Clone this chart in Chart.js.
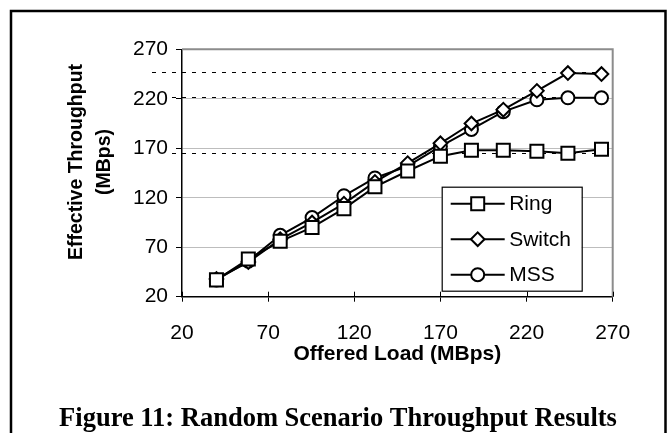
<!DOCTYPE html>
<html><head><meta charset="utf-8">
<script src="https://cdn.jsdelivr.net/npm/chart.js@4.4.0/dist/chart.umd.min.js"></script>
<style>html,body{margin:0;padding:0;background:#fff;}#wrap{width:670px;height:433px;position:relative;}</style>
</head><body><div id="wrap"><canvas id="c" width="670" height="433"></canvas></div>
<script>
// ---- data ----
const offeredLoad = [40, 58.5, 77, 95.5, 114, 132, 151, 170, 188, 206.5, 226, 244, 263.5];
const ringThroughput = [37, 58, 76, 90, 109, 131, 147, 162, 168, 168, 167, 165, 169];
const switchThroughput = [38, 55, 78, 95, 114, 136, 155, 175, 195, 209, 228, 246, 245];
const mssThroughput = [37, 56, 82, 100, 122, 140, 152, 172, 189, 207, 219, 221, 221];
const seriesNames = ['Ring', 'Switch', 'MSS'];
const seriesMarkers = ['rect', 'rectRot', 'circle'];
const refLevels = [247, 222, 165];
const xTicks = [20, 70, 120, 170, 220, 270];
const yTicks = [20, 70, 120, 170, 220, 270];
const xTitle = 'Offered Load (MBps)';
const yTitle = ['Effective Throughput', '(MBps)'];
const caption = 'Figure 11: Random Scenario Throughput Results';

const FONT = "'Liberation Sans', Arial, sans-serif";
const SERIF = "'Liberation Serif', 'Times New Roman', serif";
const seriesValues = [ringThroughput, switchThroughput, mssThroughput];
const markerRadius = {rect: 9.2, rectRot: 6.8, circle: 6.5};

const datasets = seriesNames.map((name, i) => ({
  label: name,
  data: offeredLoad.map((x, j) => ({x: x, y: seriesValues[i][j]})),
  borderColor: '#000',
  borderWidth: 2,
  pointStyle: seriesMarkers[i],
  pointRadius: markerRadius[seriesMarkers[i]],
  pointBorderWidth: 2,
  pointBorderColor: '#000',
  pointBackgroundColor: '#fff',
  tension: 0,
  fill: false
}));

const framePlugin = {
  id: 'frame',
  beforeDraw(chart) {
    const ctx = chart.ctx;
    ctx.save();
    ctx.strokeStyle = '#000';
    ctx.lineWidth = 2.5;
    ctx.beginPath();
    ctx.moveTo(11, 450); ctx.lineTo(11, 11); ctx.lineTo(665.5, 11); ctx.lineTo(665.5, 450);
    ctx.stroke();
    // reference dashed levels
    const ys = chart.scales.y, area = chart.chartArea;
    ctx.strokeStyle = '#000';
    ctx.lineWidth = 1;
    ctx.setLineDash([4, 6]);
    refLevels.forEach(v => {
      const y = Math.round(ys.getPixelForValue(v)) + 0.5;
      ctx.beginPath();
      ctx.moveTo(area.left - 30, y);
      ctx.lineTo(area.right, y);
      ctx.stroke();
    });
    ctx.restore();
  },
  beforeDatasetsDraw(chart) {
    const ctx = chart.ctx, area = chart.chartArea, xs = chart.scales.x;
    ctx.save();
    ctx.strokeStyle = '#8c8c8c';
    ctx.lineWidth = 2;
    ctx.beginPath();
    ctx.moveTo(area.left, area.top); ctx.lineTo(area.right, area.top); ctx.lineTo(area.right, area.bottom);
    ctx.stroke();
    ctx.strokeStyle = '#000';
    ctx.lineWidth = 1;
    xTicks.forEach(v => {
      const x = Math.round(xs.getPixelForValue(v)) + 0.5;
      ctx.beginPath();
      ctx.moveTo(x, area.bottom - 5); ctx.lineTo(x, area.bottom);
      ctx.stroke();
    });
    ctx.restore();
  },
  afterDatasetsDraw(chart) {
    const ctx = chart.ctx, area = chart.chartArea;
    const left = area.right - 171, top = area.bottom - 110, w = 140, h = 104;
    ctx.save();
    ctx.fillStyle = '#fff';
    ctx.fillRect(left, top, w, h);
    ctx.strokeStyle = '#000';
    ctx.lineWidth = 1.2;
    ctx.strokeRect(left + 0.5, top + 0.5, w, h);
    chart.data.datasets.forEach((ds, i) => {
      const y = top + 17 + i * 35.5;
      ctx.strokeStyle = '#000';
      ctx.lineWidth = 2;
      ctx.beginPath();
      ctx.moveTo(left + 9, y); ctx.lineTo(left + 63, y);
      ctx.stroke();
      ctx.fillStyle = '#fff';
      ctx.strokeStyle = '#000';
      ctx.lineWidth = 2;
      Chart.helpers.drawPoint(ctx, {pointStyle: ds.pointStyle, radius: ds.pointRadius, rotation: 0, borderWidth: 2}, left + 36, y);
      ctx.fillStyle = '#000';
      ctx.font = '21px ' + FONT;
      ctx.textBaseline = 'middle';
      ctx.textAlign = 'left';
      ctx.fillText(ds.label, left + 67.5, y + 1);
    });
    ctx.restore();
  },
  afterDraw(chart) {
    const ctx = chart.ctx, area = chart.chartArea;
    ctx.save();
    // y axis title (two lines, rotated)
    ctx.fillStyle = '#000';
    ctx.font = 'bold 19.5px ' + FONT;
    ctx.textAlign = 'center';
    ctx.textBaseline = 'middle';
    const cy = (area.top + area.bottom) / 2 - 11;
    yTitle.forEach((line, i) => {
      ctx.save();
      ctx.translate(area.left - 105.5 + i * 28, cy);
      ctx.rotate(-Math.PI / 2);
      ctx.fillText(line, 0, 0);
      ctx.restore();
    });
    // figure caption
    ctx.font = 'bold 26.5px ' + SERIF;
    ctx.textBaseline = 'alphabetic';
    ctx.fillText(caption, 338, 426);
    ctx.restore();
  }
};

new Chart(document.getElementById('c'), {
  type: 'line',
  data: {datasets: datasets},
  plugins: [framePlugin],
  options: {
    responsive: false,
    animation: false,
    devicePixelRatio: 1,
    layout: {padding: {left: 0, top: 49.3, right: 57.3, bottom: 0}},
    plugins: {
      legend: {display: false},
      tooltip: {enabled: false},
      title: {display: false}
    },
    scales: {
      x: {
        type: 'linear', min: 20, max: 270,
        afterBuildTicks: s => { s.ticks = xTicks.map(v => ({value: v})); },
        afterFit: s => { s.height = 136.3; },
        grid: {drawOnChartArea: false, tickLength: 5, tickColor: '#000', tickWidth: 1},
        border: {color: '#000', width: 1.5},
        ticks: {color: '#000', font: {family: FONT, size: 21}, padding: 19, maxRotation: 0},
        title: {display: true, text: xTitle, color: '#000', font: {family: FONT, size: 21, weight: 'bold', lineHeight: 1.2}, padding: {top: 0, bottom: 66.4}}
      },
      y: {
        type: 'linear', min: 20, max: 270,
        afterBuildTicks: s => { s.ticks = yTicks.map(v => ({value: v})); },
        afterFit: s => { s.width = 182; },
        grid: {color: '#bdbdbd', lineWidth: 1, tickLength: 6, tickColor: '#000', tickWidth: 1},
        border: {color: '#000', width: 1.5},
        ticks: {color: '#000', font: {family: FONT, size: 21}, padding: 8, showLabelBackdrop: true, backdropColor: '#fff', backdropPadding: 1},
        title: {display: false}
      }
    }
  }
});
</script></body></html>
